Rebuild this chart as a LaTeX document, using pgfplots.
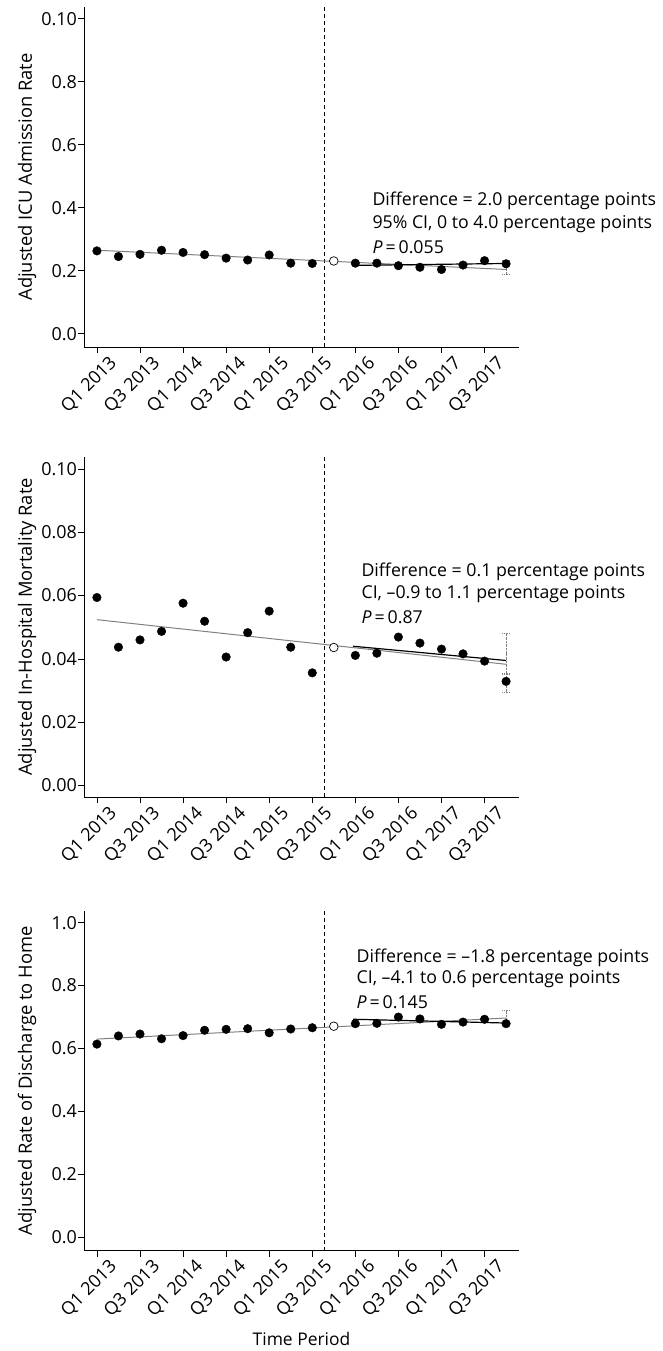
\documentclass[border=0pt]{standalone}
\usepackage{fontspec}
\setmainfont{Open Sans}
\usepackage{pgfplots}
\usepackage{pgfplotstable}
\pgfplotsset{compat=1.18}

% ICU admission rate (index 0 = Q1 2013 ... 19 = Q4 2017); index 11 is the open circle
\pgfplotstableread{
x y
0 0.263
1 0.245
2 0.252
3 0.265
4 0.258
5 0.251
6 0.240
7 0.234
8 0.250
9 0.224
10 0.223
12 0.224
13 0.224
14 0.216
15 0.211
16 0.204
17 0.218
18 0.232
19 0.222
}\icu
\pgfplotstableread{
x y
0 0.0594
1 0.0437
2 0.0460
3 0.0487
4 0.0576
5 0.0519
6 0.0406
7 0.0483
8 0.0551
9 0.0437
10 0.0356
12 0.0411
13 0.0418
14 0.0469
15 0.0450
16 0.0431
17 0.0416
18 0.0393
19 0.0329
}\mort
\pgfplotstableread{
x y
0 0.614
1 0.640
2 0.646
3 0.631
4 0.641
5 0.658
6 0.661
7 0.663
8 0.650
9 0.662
10 0.666
12 0.679
13 0.680
14 0.700
15 0.694
16 0.677
17 0.684
18 0.693
19 0.679
}\home

\pgfplotsset{
  myaxis/.style={
    scale only axis, width=435bp, height=340bp,
    anchor=south west,
    axis lines*=left,
    axis line style={-, line width=0.9bp, black},
    xmin=-0.6, xmax=19.6,
    xtick={0,2,...,18},
    xticklabels={Q1 2013,Q3 2013,Q1 2014,Q3 2014,Q1 2015,Q3 2015,Q1 2016,Q3 2016,Q1 2017,Q3 2017},
    xticklabel style={rotate=45, anchor=north east, inner sep=0pt, xshift=7bp, yshift=-9bp},
    yticklabel style={inner sep=1bp},
    tick align=outside, major tick length=6bp,
    tick style={black, line width=0.8bp},
    ticklabel style={font=\fontsize{18}{21}\selectfont},
    every axis y label/.style={at={(axis description cs:0,0.5)}, xshift=-57bp, rotate=90, anchor=center,
      font=\fontsize{18.4}{21}\selectfont},
    clip=false,
  },
  dot/.style={only marks, mark=*, mark size=4.3bp, mark options={fill=black, draw=black}},
  open/.style={only marks, mark=*, mark size=4.3bp, mark options={fill=white, draw=black, line width=0.7bp}},
  trend/.style={gray, line width=1bp},
  fit/.style={black, line width=1.2bp},
  ebar/.style={draw=none, mark=none, error bars/.cd, y dir=both, y explicit,
    error bar style={gray, densely dotted, line width=0.8bp},
    error mark options={rotate=90, mark size=4bp, gray, densely dotted, line width=0.8bp}},
}
\tikzset{ann/.style={anchor=west, font=\fontsize{17.8}{21}\selectfont, inner sep=0pt}}

\begin{document}
\begin{tikzpicture}
\useasboundingbox (0,0) rectangle (663bp,1351bp);

% ---------- Top: ICU admission ----------
\begin{axis}[myaxis, at={(84bp,1004bp)},
  ymin=-0.042, ymax=1.037,
  ytick={0,0.2,0.4,0.6,0.8,1.0},
  yticklabels={0.0,0.2,0.4,0.6,0.8,0.10},
  ylabel={Adjusted ICU Admission Rate}]
\addplot[black, dash pattern=on 4bp off 3bp, line width=0.8bp] coordinates {(10.55,-0.042) (10.55,1.037)};
\addplot[trend] coordinates {(0,0.265) (19,0.204)};
\addplot[fit] coordinates {(11.9,0.217) (19,0.223)};
\addplot[ebar] coordinates {(19,0.210) +- (0,0.022)};
\addplot[dot] table {\icu};
\addplot[open] coordinates {(11,0.231)};
\node[ann] at (axis cs:12.79,0.421) {Difference = 2.0 percentage points};
\node[ann] at (axis cs:12.79,0.348) {95\% CI, 0 to 4.0 percentage points};
\node[ann] at (axis cs:12.79,0.275) {\textit{P}\,=\,0.055};
\end{axis}

% ---------- Middle: in-hospital mortality ----------
\begin{axis}[myaxis, at={(84bp,554bp)},
  ymin=-0.00363, ymax=0.1038,
  ytick={0,0.02,0.04,0.06,0.08,0.10},
  yticklabels={0.00,0.02,0.04,0.06,0.08,0.10},
  ylabel={Adjusted In-Hospital Mortality Rate}]
\addplot[black, dash pattern=on 4bp off 3bp, line width=0.8bp] coordinates {(10.55,-0.00363) (10.55,0.1038)};
\addplot[trend] coordinates {(0,0.0524) (19,0.0383)};
\addplot[fit] coordinates {(11.9,0.0440) (19,0.0395)};
\addplot[ebar] coordinates {(19,0.0416) +- (0,0.0064)};
\addplot[ebar] coordinates {(19,0.0324) +- (0,0.0030)};
\addplot[dot] table {\mort};
\addplot[open] coordinates {(11,0.0436)};
\node[ann] at (axis cs:12.28,0.0675) {Difference = 0.1 percentage points};
\node[ann] at (axis cs:12.28,0.0605) {CI, –0.9 to 1.1 percentage points};
\node[ann] at (axis cs:12.28,0.0532) {\textit{P}\,=\,0.87};
\end{axis}

% ---------- Bottom: discharge to home ----------
\begin{axis}[myaxis, at={(84bp,100.3bp)},
  ymin=-0.0425, ymax=1.038,
  ytick={0,0.2,0.4,0.6,0.8,1.0},
  yticklabels={0.0,0.2,0.4,0.6,0.8,1.0},
  ylabel={Adjusted Rate of Discharge to Home},
  xlabel={Time Period},
  every axis x label/.style={at={(axis description cs:0.5,0)}, yshift=-88bp, anchor=center,
    font=\fontsize{17.5}{20}\selectfont}]
\addplot[black, dash pattern=on 4bp off 3bp, line width=0.8bp] coordinates {(10.55,-0.0425) (10.55,1.038)};
\addplot[trend] coordinates {(0,0.630) (19,0.697)};
\addplot[fit] coordinates {(11.9,0.693) (19,0.681)};
\addplot[ebar] coordinates {(19,0.697) +- (0,0.025)};
\addplot[dot] table {\home};
\addplot[open] coordinates {(11,0.671)};
\node[ann] at (axis cs:12.05,0.889) {Difference = –1.8 percentage points};
\node[ann] at (axis cs:12.05,0.819) {CI, –4.1 to 0.6 percentage points};
\node[ann] at (axis cs:12.05,0.746) {\textit{P}\,=\,0.145};
\end{axis}
\end{tikzpicture}
\end{document}
